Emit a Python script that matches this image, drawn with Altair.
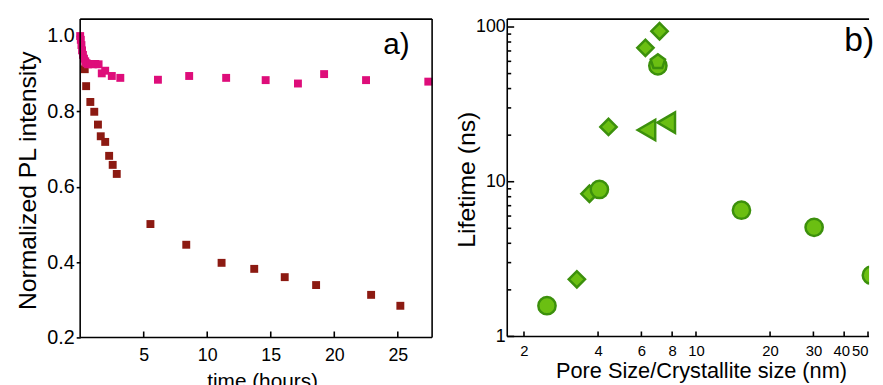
import altair as alt
import pandas as pd

# ---------------- panel a) data ----------------
time_pink = [0.0, 0.05, 0.1, 0.15, 0.22, 0.3, 0.4, 0.5, 0.62, 0.8, 1.0, 1.2, 1.45, 1.7, 1.97, 2.49, 3.16,
             6.12, 8.58, 11.49, 14.6, 17.14, 19.2, 22.5, 27.4]
pl_pink = [1.0, 0.99, 0.976, 0.962, 0.95, 0.94, 0.933, 0.928, 0.925, 0.926, 0.925, 0.926, 0.925, 0.901, 0.908,
           0.894, 0.889, 0.884, 0.894, 0.889, 0.883, 0.874, 0.899, 0.883, 0.879]
time_red = [0.36, 0.47, 0.8, 1.11, 1.4, 1.62, 1.97, 2.28, 2.56, 2.88, 5.53, 8.35, 11.13, 13.7, 16.1, 18.57, 22.9, 25.2]
pl_red = [0.912, 0.867, 0.825, 0.799, 0.765, 0.734, 0.719, 0.682, 0.658, 0.634, 0.501, 0.446, 0.398, 0.382,
          0.360, 0.339, 0.313, 0.284]
x_ticks_a = [5, 10, 15, 20, 25]
y_ticks_a = [0.2, 0.4, 0.6, 0.8, 1.0]

# ---------------- panel b) data ----------------
circle_x = [2.48, 4.05, 7.0, 15.3, 30.2, 51.6]
circle_y = [1.58, 8.92, 56.1, 6.55, 5.07, 2.49]
diamond_x = [3.28, 3.69, 4.41, 6.23, 7.11]
diamond_y = [2.34, 8.36, 22.6, 73.4, 93.9]
triangle_x = [6.29, 7.57]
triangle_y = [21.6, 24.1]
pentagon_x = [7.0]
pentagon_y = [59.5]
x_ticks_b = [2, 4, 6, 8, 10, 20, 30, 40, 50]
y_major_b = [1, 10, 100]
y_minor_b = [2, 3, 4, 5, 6, 7, 8, 9, 20, 30, 40, 50, 60, 70, 80, 90]

FONT = "Liberation Sans"
PINK = "#de0d7a"
DRED = "#8c1a12"
GFILL = "#6bbf12"
GSTROKE = "#3c900c"
PENTAGON = "M0,-1L0.951,-0.309L0.588,0.809L-0.588,0.809L-0.951,-0.309Z"
LW = 1.6

W_A, H_A = 356, 322
W_B, H_B = 366, 321

one = pd.DataFrame({"k": [0]})


def frame(w, h, right=True):
    lines = [
        alt.Chart(one).mark_rule(color="black", strokeWidth=LW).encode(
            x=alt.value(0), x2=alt.value(w), y=alt.value(0)),
        alt.Chart(one).mark_rule(color="black", strokeWidth=LW).encode(
            x=alt.value(0), x2=alt.value(w), y=alt.value(h)),
        alt.Chart(one).mark_rule(color="black", strokeWidth=LW).encode(
            x=alt.value(0), y=alt.value(0), y2=alt.value(h)),
    ]
    if right:
        lines.append(alt.Chart(one).mark_rule(color="black", strokeWidth=LW).encode(
            x=alt.value(w), y=alt.value(0), y2=alt.value(h)))
    return lines


# ---------------- panel a ----------------
xa = alt.Scale(domain=[0, 27.7], nice=False, zero=False)
ya = alt.Scale(domain=[0.2, 1.045], nice=False, zero=False)
ax_xa = alt.Axis(values=x_ticks_a, ticks=False, domain=False, grid=False, labelFontSize=18,
                 labelFont=FONT, labelColor="black", labelPadding=9,
                 title="time (hours)", titleFont=FONT, titleColor="black", titleFontWeight="normal",
                 titleFontSize=21, titleX=184, titleY=51, titleBaseline="alphabetic", titleAlign="center")
ax_ya = alt.Axis(values=y_ticks_a, format=".1f", ticks=True, tickSize=4, tickWidth=LW, tickColor="black",
                 domain=False, grid=False, labelFontSize=20, labelFont=FONT, labelColor="black", labelPadding=2,
                 title="Normalized PL intensity", titleFont=FONT, titleColor="black", titleFontWeight="normal",
                 titleFontSize=25, titleAngle=-90, titleX=-45, titleY=163, titleBaseline="alphabetic",
                 titleAlign="center")

df_red = pd.DataFrame({"t": time_red, "pl": pl_red})
df_pink = pd.DataFrame({"t": time_pink, "pl": pl_pink})
df_xt_a = pd.DataFrame({"t": x_ticks_a})

red = alt.Chart(df_red).mark_square(size=64, color=DRED, opacity=1).encode(
    x=alt.X("t:Q", scale=xa, axis=ax_xa), y=alt.Y("pl:Q", scale=ya, axis=ax_ya))
pink = alt.Chart(df_pink).mark_square(size=64, color=PINK, opacity=1).encode(
    x=alt.X("t:Q", scale=xa, axis=ax_xa), y=alt.Y("pl:Q", scale=ya, axis=ax_ya))
ticks_a = alt.Chart(df_xt_a).mark_rule(color="black", strokeWidth=LW).encode(
    x=alt.X("t:Q", scale=xa, axis=ax_xa), y=alt.value(H_A), y2=alt.value(H_A - 6))
lab_a = alt.Chart(pd.DataFrame({"s": ["a)"]})).mark_text(
    font=FONT, fontSize=30, align="center", baseline="alphabetic", color="black").encode(
    text="s:N", x=alt.value(320), y=alt.value(35))

panel_a = alt.layer(red, pink, ticks_a, lab_a, *frame(W_A, H_A)).properties(width=W_A, height=H_A)

# ---------------- panel b ----------------
xb = alt.Scale(type="log", domain=[1.71, 50.5], nice=False)
yb = alt.Scale(type="log", domain=[1, 112.5], nice=False)
ax_xb = alt.Axis(values=x_ticks_b, ticks=False, domain=False, grid=False, labelFontSize=15,
                 labelFont=FONT, labelColor="black", labelPadding=7, labelFlush=3, labelOverlap=False,
                 labelOffset={"condition": {"test": "datum.value == 40", "value": -3}, "value": 0},
                 title="Pore Size/Crystallite size (nm)", titleFont=FONT, titleColor="black",
                 titleFontWeight="normal", titleFontSize=22, titleX=196, titleY=42,
                 titleBaseline="alphabetic", titleAlign="center")
ax_yb = alt.Axis(values=y_major_b, format="d", ticks=False, domain=False, grid=False, labelFontSize=18,
                 labelFont=FONT, labelColor="black", labelPadding=2, labelFlush=False, labelOverlap=False,
                 title="Lifetime (ns)", titleFont=FONT, titleColor="black", titleFontWeight="normal",
                 titleFontSize=25, titleAngle=-90, titleX=-33, titleY=162, titleBaseline="alphabetic",
                 titleAlign="center")

df_c = pd.DataFrame({"x": circle_x, "y": circle_y})
df_d = pd.DataFrame({"x": diamond_x, "y": diamond_y})
df_t = pd.DataFrame({"x": triangle_x, "y": triangle_y})
df_p = pd.DataFrame({"x": pentagon_x, "y": pentagon_y})


def green(df, shape, size):
    return alt.Chart(df).mark_point(shape=shape, size=size, filled=True, fill=GFILL, stroke=GSTROKE,
                                    strokeWidth=2.5, opacity=1, fillOpacity=1, clip=True).encode(
        x=alt.X("x:Q", scale=xb, axis=ax_xb), y=alt.Y("y:Q", scale=yb, axis=ax_yb))


pts_d = green(df_d, "diamond", 272)
pts_t = green(df_t, "triangle-left", 420)
pts_c = green(df_c, "circle", 306)
pts_p = green(df_p, PENTAGON, 232)

ticks_xb = alt.Chart(pd.DataFrame({"x": x_ticks_b})).mark_rule(color="black", strokeWidth=LW).encode(
    x=alt.X("x:Q", scale=xb, axis=ax_xb), y=alt.value(H_B), y2=alt.value(H_B - 5))
ticks_ybM = alt.Chart(pd.DataFrame({"y": y_major_b})).mark_rule(color="black", strokeWidth=LW).encode(
    y=alt.Y("y:Q", scale=yb, axis=ax_yb), x=alt.value(0), x2=alt.value(7))
ticks_ybm = alt.Chart(pd.DataFrame({"y": y_minor_b})).mark_rule(color="black", strokeWidth=LW).encode(
    y=alt.Y("y:Q", scale=yb, axis=ax_yb), x=alt.value(0), x2=alt.value(4))
lab_b = alt.Chart(pd.DataFrame({"s": ["b)"]})).mark_text(
    font=FONT, fontSize=34, align="center", baseline="alphabetic", color="black").encode(
    text="s:N", x=alt.value(356), y=alt.value(32))

panel_b = alt.layer(ticks_xb, ticks_ybM, ticks_ybm, pts_d, pts_t, pts_c, pts_p, lab_b,
                    *frame(W_B, H_B, right=False)).properties(width=W_B, height=H_B)

chart = alt.hconcat(panel_a, panel_b, spacing=22).properties(
    padding={"left": 8, "top": 8, "right": 0, "bottom": 0},
    background="white",
).configure_view(stroke=None)

chart.save("out.html", embed_options={"renderer": "svg", "actions": False})
